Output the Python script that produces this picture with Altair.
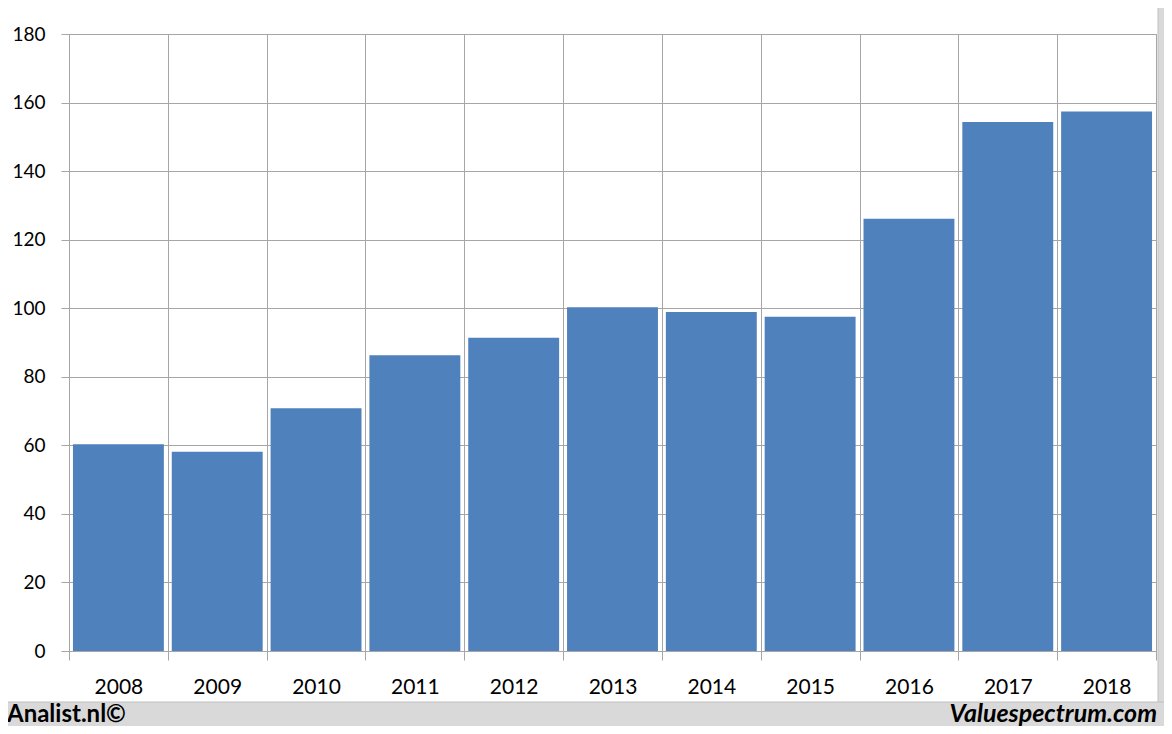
import altair as alt
import pandas as pd

years = ["2008", "2009", "2010", "2011", "2012", "2013", "2014", "2015", "2016", "2017", "2018"]
values = [60.3, 58.1, 70.8, 86.3, 91.4, 100.3, 98.9, 97.5, 126.1, 154.3, 157.4]
y_ticks = [0, 20, 40, 60, 80, 100, 120, 140, 160, 180]
footer_left = "Analist.nl©"
footer_right = "Valuespectrum.com"

df = pd.DataFrame({"year": years, "value": values})
one = pd.DataFrame({"k": [0]})

GRID = "#a6a6a6"
BAR = "#4F81BD"
FRAME = "#d9d9d9"

bars = alt.Chart(df).mark_bar(color=BAR, width=alt.RelativeBandSize(0.92)).encode(
    x=alt.X("year:N", sort=years, scale=alt.Scale(paddingInner=0, paddingOuter=0),
            axis=alt.Axis(title=None, labelAngle=0, tickBand="extent", grid=True,
                          gridColor=GRID, tickColor=GRID, domainColor=GRID, tickSize=9,
                          labelFont="Lato", labelFontSize=21, labelColor="#000000",
                          labelPadding=33, labelBaseline="alphabetic")),
    y=alt.Y("value:Q", scale=alt.Scale(domain=[0, 180], nice=False),
            axis=alt.Axis(title=None, values=y_ticks, grid=True, gridColor=GRID,
                          tickColor=GRID, domainColor=GRID, tickSize=8,
                          labelFont="Lato", labelFontSize=19, labelColor="#000000",
                          labelPadding=16)),
)

right_strip = alt.Chart(one).mark_rect(color=FRAME, stroke="#c0c0c0", strokeWidth=1).encode(
    x=alt.value(1089), x2=alt.value(1110), y=alt.value(-40), y2=alt.value(720))
bottom_strip = alt.Chart(one).mark_rect(color=FRAME, stroke="#c0c0c0", strokeWidth=1).encode(
    x=alt.value(-80), x2=alt.value(1110), y=alt.value(668), y2=alt.value(720))

left_text = alt.Chart(one).mark_text(align="left", baseline="alphabetic", font="Lato",
                                     fontWeight="bold", fontSize=24, color="#000000").encode(
    x=alt.value(-62), y=alt.value(688), text=alt.value(footer_left))
right_text = alt.Chart(one).mark_text(align="right", baseline="alphabetic", font="Lato",
                                      fontWeight="bold", fontStyle="italic", fontSize=25,
                                      color="#000000").encode(
    x=alt.value(1088), y=alt.value(688), text=alt.value(footer_right))

chart = alt.layer(bars, right_strip, bottom_strip, left_text, right_text).properties(
    width=1087, height=617,
    autosize=alt.AutoSizeParams(type="none"),
    padding={"left": 61, "top": 26, "right": 8, "bottom": 75},
    background="#ffffff",
).configure_view(stroke=GRID, strokeWidth=1)

chart.save("out.html", embed_options={"renderer": "svg", "actions": False})
